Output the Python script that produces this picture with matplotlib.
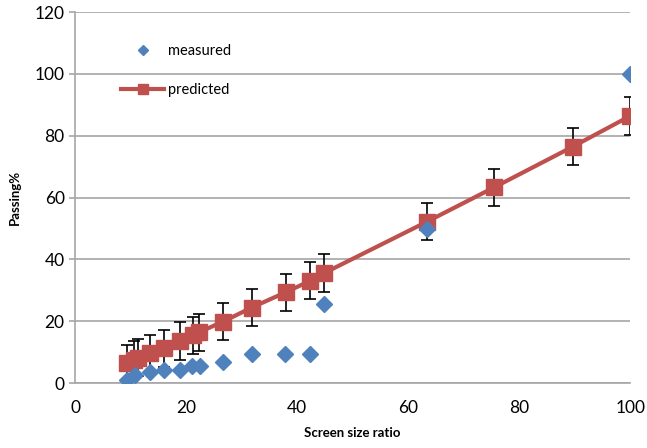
import numpy as np
import matplotlib
matplotlib.use("Agg")
import matplotlib.pyplot as plt

plt.rcParams["font.family"] = ["Lato", "DejaVu Sans"]

# ── data ────────────────────────────────────────────────────────────────────
measured_x = [9.3, 10.8, 13.5, 16.0, 18.9, 21.0, 22.5, 26.7, 31.8, 37.9, 42.4, 44.9, 63.4, 100.0]
measured_y = [1.0, 2.6, 3.6, 4.2, 4.2, 5.5, 5.5, 6.7, 9.4, 9.4, 9.4, 25.6, 49.8, 100.0]

predicted_x = [9.3, 10.6, 11.4, 13.5, 16.0, 18.9, 21.3, 22.3, 26.7, 31.8, 38.0, 42.4, 44.9,
               63.4, 75.5, 89.7, 100.0]
predicted_y = [6.4, 7.6, 8.2, 9.6, 11.3, 13.6, 15.5, 16.4, 19.9, 24.4, 29.4, 33.1, 35.6,
               52.2, 63.3, 76.5, 86.4]
predicted_err = [6.0] * len(predicted_x)

BLUE = "#4F81BD"
RED = "#C0504D"
GRID = "#A6A6A6"

fig = plt.figure(figsize=(6.47, 4.48), dpi=100)
ax = fig.add_axes([0.116, 0.145, 0.858, 0.828])

ax.errorbar(predicted_x, predicted_y, yerr=predicted_err, fmt="none",
            ecolor="black", elinewidth=1.2, capsize=4, capthick=1.2, zorder=2)
ax.plot(predicted_x, predicted_y, color=RED, linewidth=3, marker="s",
        markersize=11, markeredgecolor=RED, label="predicted", zorder=3)
ax.plot(measured_x, measured_y, linestyle="none", marker="D", markersize=8,
        color=BLUE, markeredgecolor=BLUE, label="measured", zorder=4)

ax.set_xlim(0, 100)
ax.set_ylim(0, 120)
ax.set_xticks(np.arange(0, 101, 20))
ax.set_yticks(np.arange(0, 121, 20))
ax.yaxis.grid(True, color=GRID, linewidth=1.2)
ax.set_axisbelow(True)
for s in ("top", "right"):
    ax.spines[s].set_visible(False)
for s in ("left", "bottom"):
    ax.spines[s].set_color(GRID)
    ax.spines[s].set_linewidth(1.2)
ax.tick_params(axis="both", colors=GRID, labelcolor="black", labelsize=12.5,
               length=4, width=1.2)
ax.tick_params(axis="x", length=0, pad=12)

ax.set_xlabel("Screen size ratio", fontsize=9.5, fontweight="bold", labelpad=8)
ax.set_ylabel("Passing%", fontsize=9.5, fontweight="bold", labelpad=10)

h, l = ax.get_legend_handles_labels()
ax.legend(h[::-1], l[::-1], loc="upper left", bbox_to_anchor=(0.06, 0.95),
          frameon=False, fontsize=10.5, handlelength=2.9, numpoints=1,
          labelspacing=1.75, handletextpad=0.3, markerscale=0.6)

fig.savefig("out.png", dpi=100)
